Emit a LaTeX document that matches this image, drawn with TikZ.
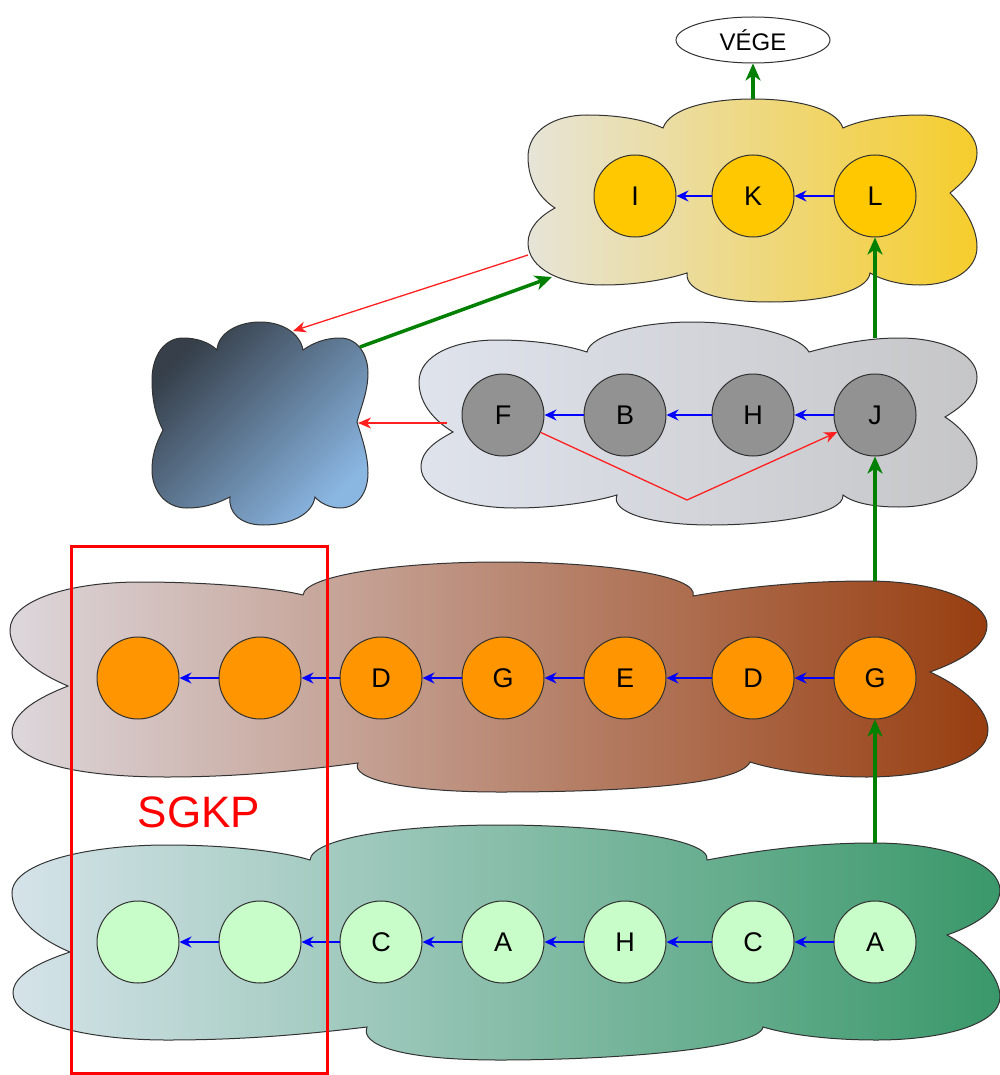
\documentclass[tikz,border=0pt]{standalone}
\usepackage{fontspec}
\setmainfont{Liberation Sans}
\usetikzlibrary{arrows.meta,shapes.geometric}
\definecolor{cloudline}{HTML}{333333}
\definecolor{circline}{HTML}{303030}
\definecolor{yfill}{HTML}{FFC800}
\definecolor{gfill}{HTML}{929292}
\definecolor{ofill}{HTML}{FF9500}
\definecolor{lfill}{HTML}{C8FCC8}
\definecolor{yA}{HTML}{E6E4D8}
\definecolor{yM}{HTML}{F0DF92}
\definecolor{yB}{HTML}{F6CD2C}
\definecolor{grA}{HTML}{DFE3EC}
\definecolor{grM}{HTML}{D2D5DA}
\definecolor{grB}{HTML}{C6C6C8}
\definecolor{dkA}{HTML}{363F4A}
\definecolor{dkB}{HTML}{8AB6E2}
\definecolor{orA}{HTML}{DDD7DC}
\definecolor{orM}{HTML}{BC8A76}
\definecolor{orB}{HTML}{983E10}
\definecolor{lgA}{HTML}{D5E3E9}
\definecolor{lgM}{HTML}{88BFA8}
\definecolor{lgB}{HTML}{3A986A}
\definecolor{arrgreen}{HTML}{008000}
\definecolor{arrblue}{HTML}{0000FF}
\definecolor{arrred}{HTML}{FF2020}
\begin{document}
\begin{tikzpicture}[x=1pt,y=-1pt,
  cloud/.style={draw=cloudline,line width=1pt},
  circ/.style={circle,draw=circline,line width=1pt,minimum size=82pt,inner sep=0pt,font=\fontsize{27}{30}\selectfont},
  ycirc/.style={circ,fill=yfill},
  gcirc/.style={circ,fill=gfill},
  ocirc/.style={circ,fill=ofill},
  lcirc/.style={circ,fill=lfill},
  bluearr/.style={draw=arrblue,line width=1.4pt,-{Stealth[length=12pt,width=11pt,inset=4pt]}},
  greenarr/.style={draw=arrgreen,line width=3.5pt,-{Stealth[length=17pt,width=15pt,inset=5pt]}},
  redarr/.style={draw=arrred,line width=1.3pt,-{Stealth[length=13pt,width=11pt,inset=4pt]}},
  redline/.style={draw=arrred,line width=1.3pt}
]
\useasboundingbox (0,0) rectangle (1000,1075);

% ---- yellow cloud
\path[cloud,left color=yA,middle color=yM,right color=yB]
 (555,208) .. controls (535,195) and (528,175) .. (528,157)
 .. controls (528,130) and (555,115) .. (587,115)
 .. controls (620,115) and (645,120) .. (663,128)
 .. controls (670,108) and (710,99) .. (753,99)
 .. controls (796,99) and (836,108) .. (843,128)
 .. controls (860,120) and (890,115) .. (920,115)
 .. controls (955,115) and (977,132) .. (977,153)
 .. controls (977,170) and (962,183) .. (950,193)
 .. controls (965,208) and (977,228) .. (977,247)
 .. controls (977,270) and (952,285) .. (920,285)
 .. controls (900,285) and (882,280) .. (870,273)
 .. controls (868,292) and (820,302) .. (770,302)
 .. controls (720,302) and (685,292) .. (687,273)
 .. controls (665,280) and (635,285) .. (603,285)
 .. controls (560,285) and (528,268) .. (528,243)
 .. controls (528,228) and (540,216) .. (555,208) -- cycle;

% ---- gray cloud
\path[cloud,left color=grA,middle color=grM,right color=grB]
 (453,432) .. controls (430,418) and (419,400) .. (419,382)
 .. controls (419,355) and (455,340) .. (497,340)
 .. controls (535,340) and (565,345) .. (587,352)
 .. controls (590,335) and (640,322) .. (692,322)
 .. controls (745,322) and (800,335) .. (809,352)
 .. controls (835,345) and (865,338) .. (899,338)
 .. controls (945,338) and (977,355) .. (977,377)
 .. controls (977,395) and (960,408) .. (945,417)
 .. controls (962,428) and (977,445) .. (977,463)
 .. controls (977,490) and (940,507) .. (899,507)
 .. controls (870,507) and (852,502) .. (843,495)
 .. controls (845,515) and (770,525) .. (711,525)
 .. controls (650,525) and (610,512) .. (617,495)
 .. controls (590,503) and (550,508) .. (515,508)
 .. controls (460,508) and (421,490) .. (421,467)
 .. controls (421,450) and (438,440) .. (453,432) -- cycle;

% ---- dark cloud
\path[cloud,top color=dkA,bottom color=dkB,shading angle=45]
 (163,430) .. controls (155,415) and (152,398) .. (152,380)
 .. controls (152,355) and (165,338) .. (183,338)
 .. controls (198,338) and (210,343) .. (217,350)
 .. controls (218,333) and (238,322) .. (260,322)
 .. controls (282,322) and (300,333) .. (303,350)
 .. controls (313,343) and (325,338) .. (340,338)
 .. controls (358,338) and (368,355) .. (368,373)
 .. controls (368,392) and (360,410) .. (357,422)
 .. controls (362,438) and (368,455) .. (368,473)
 .. controls (368,492) and (358,508) .. (340,508)
 .. controls (330,508) and (320,503) .. (315,497)
 .. controls (312,515) and (290,525) .. (263,525)
 .. controls (240,525) and (228,512) .. (230,497)
 .. controls (218,503) and (205,508) .. (187,508)
 .. controls (165,508) and (152,490) .. (152,470)
 .. controls (152,452) and (158,440) .. (163,430) -- cycle;

% ---- orange (brown) cloud
\path[cloud,left color=orA,middle color=orM,right color=orB]
 (68,686) .. controls (30,670) and (10,650) .. (10,630)
 .. controls (10,600) and (70,582) .. (140,582)
 .. controls (210,582) and (275,588) .. (303,595)
 .. controls (305,575) and (400,562) .. (500,562)
 .. controls (600,562) and (700,575) .. (693,596)
 .. controls (750,586) and (810,581) .. (867,581)
 .. controls (940,581) and (987,603) .. (987,625)
 .. controls (987,648) and (955,663) .. (930,672)
 .. controls (965,688) and (988,710) .. (988,730)
 .. controls (988,760) and (930,777) .. (867,777)
 .. controls (820,777) and (775,770) .. (750,762)
 .. controls (740,785) and (620,792) .. (500,792)
 .. controls (400,792) and (350,778) .. (358,763)
 .. controls (290,772) and (230,777) .. (167,777)
 .. controls (70,777) and (12,760) .. (12,733)
 .. controls (12,712) and (40,697) .. (68,686) -- cycle;

% ---- green cloud
\path[cloud,left color=lgA,middle color=lgM,right color=lgB]
 (70,952) .. controls (30,935) and (12,912) .. (12,893)
 .. controls (12,862) and (90,845) .. (167,845)
 .. controls (230,845) and (285,852) .. (310,860)
 .. controls (312,838) and (400,825) .. (500,825)
 .. controls (600,825) and (712,838) .. (707,860)
 .. controls (760,850) and (815,843) .. (873,843)
 .. controls (950,843) and (1000,865) .. (1000,890)
 .. controls (1000,912) and (970,927) .. (947,935)
 .. controls (975,950) and (1000,975) .. (1000,997)
 .. controls (1000,1025) and (940,1040) .. (877,1040)
 .. controls (830,1040) and (790,1035) .. (763,1027)
 .. controls (760,1048) and (620,1060) .. (500,1060)
 .. controls (400,1060) and (360,1045) .. (367,1027)
 .. controls (300,1035) and (240,1040) .. (167,1040)
 .. controls (80,1040) and (13,1020) .. (13,993)
 .. controls (13,975) and (40,962) .. (70,952) -- cycle;

% ---- nodes
\node[ellipse,draw=circline,line width=1pt,fill=white,minimum width=154pt,minimum height=46pt,inner sep=0pt,font=\fontsize{24}{27}\selectfont] (vege) at (753,40) {VÉGE};

\node[ycirc] (I) at (635,196) {I};
\node[ycirc] (K) at (753,196) {K};
\node[ycirc] (L) at (875,196) {L};

\node[gcirc] (F) at (503,415) {F};
\node[gcirc] (B) at (625,415) {B};
\node[gcirc] (H) at (753,415) {H};
\node[gcirc] (J) at (875,415) {J};

\node[ocirc] (o1) at (138,678) {};
\node[ocirc] (o2) at (260,678) {};
\node[ocirc] (o3) at (381,678) {D};
\node[ocirc] (o4) at (503,678) {G};
\node[ocirc] (o5) at (625,678) {E};
\node[ocirc] (o6) at (753,678) {D};
\node[ocirc] (o7) at (875,678) {G};

\node[lcirc] (g1) at (138,942) {};
\node[lcirc] (g2) at (260,942) {};
\node[lcirc] (g3) at (381,942) {C};
\node[lcirc] (g4) at (503,942) {A};
\node[lcirc] (g5) at (625,942) {H};
\node[lcirc] (g6) at (753,942) {C};
\node[lcirc] (g7) at (875,942) {A};

% ---- coordinates on cloud borders
\coordinate (ytop) at (753,99);
\coordinate (grtop) at (875,338);
\coordinate (ortop) at (875,581);
\coordinate (lgtop) at (875,843);
\coordinate (yleft) at (528,255);
\coordinate (ybot) at (552,277);
\coordinate (dktop) at (293,331);
\coordinate (dkright) at (360,347);
\coordinate (dkmid) at (358,423);
\coordinate (grleft) at (447,423);
\coordinate (vee) at (687,500);

% ---- blue chains
\draw[bluearr] (K) -- (I);
\draw[bluearr] (L) -- (K);
\draw[bluearr] (B) -- (F);
\draw[bluearr] (H) -- (B);
\draw[bluearr] (J) -- (H);
\draw[bluearr] (o2) -- (o1);
\draw[bluearr] (o3) -- (o2);
\draw[bluearr] (o4) -- (o3);
\draw[bluearr] (o5) -- (o4);
\draw[bluearr] (o6) -- (o5);
\draw[bluearr] (o7) -- (o6);
\draw[bluearr] (g2) -- (g1);
\draw[bluearr] (g3) -- (g2);
\draw[bluearr] (g4) -- (g3);
\draw[bluearr] (g5) -- (g4);
\draw[bluearr] (g6) -- (g5);
\draw[bluearr] (g7) -- (g6);

% ---- green arrows
\draw[greenarr] (ytop) -- (vege);
\draw[greenarr] (grtop) -- (L);
\draw[greenarr] (ortop) -- (J);
\draw[greenarr] (lgtop) -- (o7);
\draw[greenarr] (dkright) -- (ybot);

% ---- red arrows
\draw[redarr] (yleft) -- (dktop);
\draw[redarr] (grleft) -- (dkmid);
\draw[redarr] (F) -- (vee) -- (J);

% ---- SGKP box
\node[text=red,font=\fontsize{44}{48}\selectfont] (sgkp) at (199,812) {SGKP};
\draw[red,line width=3pt] (71,546) rectangle (327,1073);
\end{tikzpicture}
\end{document}
